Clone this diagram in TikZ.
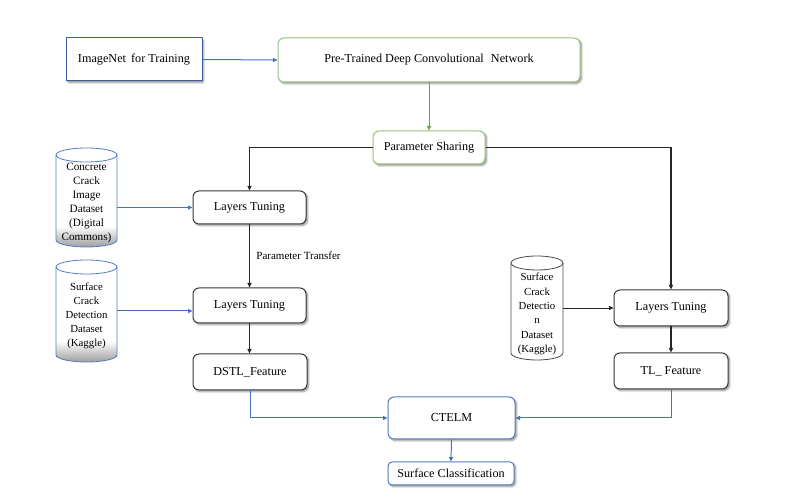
\documentclass[tikz,border=0pt]{standalone}
\usepackage{fontspec}
\setmainfont{Liberation Serif}
\usetikzlibrary{arrows.meta,shadows.blur}

\definecolor{lineblue}{RGB}{68,114,196}
\definecolor{frameblue}{RGB}{62,92,156}
\definecolor{softblue}{RGB}{84,122,192}
\definecolor{framegreen}{RGB}{150,196,120}
\definecolor{linegreen}{RGB}{104,168,64}
\definecolor{framedark}{RGB}{58,58,58}

\tikzset{
  boxshadow/.style={blur shadow={shadow xshift=1.6pt, shadow yshift=-1.6pt,
      shadow blur steps=6, shadow blur extra rounding=1pt, shadow opacity=45}},
  plainbox/.style={draw=#1, line width=1pt, fill=white, inner sep=0pt,
      font=\fontsize{12.2}{14}\selectfont, boxshadow},
  roundbox/.style={plainbox=#1, rounded corners=6pt},
  cylbox/.style={inner sep=0pt, align=center,
      font=\fontsize{11.2}{14}\selectfont},
  bluearrow/.style={draw=lineblue, line width=1pt, -{Triangle[length=4.5pt,width=4pt]}},
  greenarrow/.style={draw=linegreen, line width=0.9pt, -{Triangle[length=4.5pt,width=4pt]}},
  blackarrow/.style={draw=black!85, line width=1.2pt, -{Triangle[length=4.5pt,width=4pt]}},
  thinarrow/.style={draw=black!85, line width=0.8pt, -{Triangle[length=4.5pt,width=4pt]}},
}

% database drum: #1 centre x, #2 centre y, #3 width, #4 height, #5 colour, #6 shaded bottom (1/0)
\newcommand\drumshape[6]{%
  \pgfmathsetmacro\drx{#3/2}%
  \pgfmathsetmacro\dry{7}%
  \pgfmathsetmacro\dtop{#2+#4/2-\dry}%
  \pgfmathsetmacro\dbot{#2-#4/2+\dry}%
  \pgfmathsetmacro\dl{#1-\drx}%
  \pgfmathsetmacro\dr{#1+\drx}%
  \fill[white] (\dl,\dtop) -- (\dl,\dbot)
     arc[start angle=180,end angle=360,x radius=\drx,y radius=\dry]
     -- (\dr,\dtop) arc[start angle=0,end angle=180,x radius=\drx,y radius=\dry] -- cycle;
  \ifnum#6=1
  \begin{scope}
    \clip (\dl,\dtop) -- (\dl,\dbot)
       arc[start angle=180,end angle=360,x radius=\drx,y radius=\dry]
       -- (\dr,\dtop) -- cycle;
    \shade[top color=white, bottom color=black!38]
       (\dl,\dbot-\dry) rectangle (\dr,\dbot+\dry+7);
  \end{scope}
  \fi
  \draw[#5, line width=0.8pt] (\dl,\dtop) -- (\dl,\dbot)
     arc[start angle=180,end angle=360,x radius=\drx,y radius=\dry]
     -- (\dr,\dtop);
  \draw[#5, line width=0.8pt] (#1,\dtop) ellipse[x radius=\drx,y radius=\dry];
}

\begin{document}
\begin{tikzpicture}[x=1pt,y=1pt]
\useasboundingbox (0,0) rectangle (787,492);

% top row
\node[plainbox=frameblue, minimum width=136pt, minimum height=43pt] (imgnet) at (134,432.5) {ImageNet\, for Training};
\node[roundbox=framegreen, minimum width=302pt, minimum height=44pt] (pretrained) at (429,432) {Pre-Trained Deep Convolutional\,\, Network};
\node[roundbox=framegreen, minimum width=112pt, minimum height=33pt] (share) at (429,344.5) {Parameter Sharing};

% left branch
\node[roundbox=framedark, minimum width=113pt, minimum height=33pt] (lt1) at (249.5,284.5) {Layers Tuning};
\node[roundbox=framedark, minimum width=113pt, minimum height=35pt] (lt2) at (249.5,186.5) {Layers Tuning};
\node[roundbox=framedark, minimum width=114pt, minimum height=36pt] (dstl) at (250,120) {DSTL\_Feature};

% right branch
\node[roundbox=framedark, minimum width=114pt, minimum height=36pt] (lt3) at (671,184) {Layers Tuning};
\node[roundbox=framedark, minimum width=114pt, minimum height=36pt] (tl) at (671,121) {TL\_ Feature};

% fusion and output
\node[roundbox=softblue, minimum width=127pt, minimum height=42pt] (ctelm) at (451.5,74) {CTELM};
\node[roundbox=softblue, minimum width=126pt, minimum height=23pt, rounded corners=4pt] (surf) at (451,18.5) {Surface Classification};

% datasets
\drumshape{86.5}{294.5}{61}{99}{softblue}{1}
\node[cylbox, minimum width=61pt, minimum height=99pt] (c1) at (86.5,294.5) {};
\node[cylbox] (c1text) at (86.5,289) {Concrete\\Crack\\Image\\Dataset\\(Digital\\Commons)};

\drumshape{86.5}{181}{61}{102}{softblue}{1}
\node[cylbox, minimum width=61pt, minimum height=102pt] (c2) at (86.5,181) {};
\node[cylbox, font=\fontsize{10.8}{14}\selectfont] (c2text) at (86.5,176) {Surface\\Crack\\Detection\\Dataset\\(Kaggle)};

\drumshape{537}{184}{52}{104}{black!70}{0}
\node[cylbox, minimum width=52pt, minimum height=104pt] (c3) at (537,184) {};
\node[cylbox, font=\fontsize{10.8}{14.4}\selectfont] (c3text) at (537,178) {Surface\\Crack\\Detectio\\n\\Dataset\\(Kaggle)};

% connectors
\draw[bluearrow] (imgnet.east) -- (pretrained.west);
\draw[greenarrow] (pretrained.south) -- (share.north);
\draw[blackarrow] (share.west) -| (lt1.north);
\draw[blackarrow] (share.east) -| (lt3.north);
\draw[bluearrow] (c1.east |- lt1.west) -- (lt1.west);
\draw[blackarrow] (lt1.south) -- node[right, xshift=3pt, font=\fontsize{11}{12}\selectfont] (ptlabel) {Parameter Transfer} (lt2.north);
\draw[bluearrow] (c2.east) -- (c2.east -| lt2.west);
\draw[blackarrow] (lt2.south) -- (lt2.south |- dstl.north);
\draw[thinarrow] (c3.east) -- (c3.east -| lt3.west);
\draw[blackarrow] (lt3.south) -- (tl.north);
\draw[bluearrow] (dstl.south) |- (ctelm.west);
\draw[bluearrow] (tl.south) |- (ctelm.east);
\draw[bluearrow] (ctelm.south) -- (surf.north);
\end{tikzpicture}
\end{document}
